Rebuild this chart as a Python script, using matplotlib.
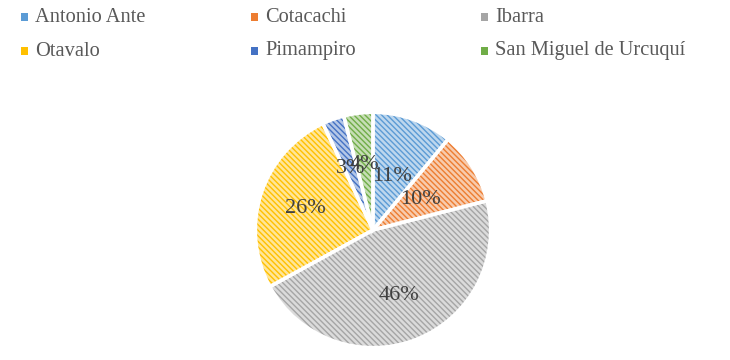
import matplotlib
matplotlib.use("Agg")
import matplotlib.pyplot as plt
import numpy as np
from matplotlib.colors import to_rgb
from matplotlib.patches import Rectangle

plt.rcParams["font.family"] = ["Liberation Serif", "DejaVu Serif"]
plt.rcParams["hatch.linewidth"] = 1.0

cantones = ["Antonio Ante", "Cotacachi", "Ibarra", "Otavalo", "Pimampiro", "San Miguel de Urcuquí"]
porcentajes = [11, 10, 46, 26, 3, 4]
colores = ["#5B9BD5", "#ED7D31", "#A5A5A5", "#FFC000", "#4472C4", "#70AD47"]
# radial position of each percentage label (fraction of radius)
dist_etiqueta = [0.48, 0.48, 0.6, 0.6, 0.56, 0.56]


def tint(c, f=0.6):
    r = np.array(to_rgb(c))
    return tuple(r + (1 - r) * f)


fig = plt.figure(figsize=(7.3, 3.6), dpi=100)
cx, cy, rad = 373 / 730, 1 - 230 / 360, 120
ax = fig.add_axes([cx - rad / 730, cy - rad / 360, 2 * rad / 730, 2 * rad / 360])

# hatched fill: light face, hatch drawn in the series colour
wedges, _ = ax.pie(porcentajes, startangle=90, counterclock=False, radius=1.0,
                   colors=[tint(c) for c in colores],
                   wedgeprops=dict(linewidth=0))
for w, c in zip(wedges, colores):
    w.set_hatch("\\\\\\\\\\\\")
    w.set_edgecolor(c)

# white separators on top
ax.pie(porcentajes, startangle=90, counterclock=False, radius=1.0,
       colors=["none"] * len(porcentajes),
       wedgeprops=dict(linewidth=2.5, edgecolor="white", fill=False))

# percentage labels
total = sum(porcentajes)
acum = 0
for v, d in zip(porcentajes, dist_etiqueta):
    mid = 90 - 360 * (acum + v / 2) / total
    acum += v
    ang = np.deg2rad(mid)
    ax.text(d * np.cos(ang), d * np.sin(ang), f"{v / total * 100:.0f}%",
            ha="center", va="center", fontsize=16, color="#404040")

ax.set_xlim(-1.02, 1.02)
ax.set_ylim(-1.02, 1.02)
ax.set_aspect("equal")
ax.axis("off")

# legend, 3 columns x 2 rows
col_x = [21, 251, 481]
row_y = [17, 51]
for i, (name, c) in enumerate(zip(cantones, colores)):
    x = col_x[i % 3]
    y = row_y[i // 3]
    fig.patches.append(Rectangle((x / 730, 1 - (y + 3.5) / 360), 7 / 730, 7 / 360,
                                 transform=fig.transFigure, facecolor=c, edgecolor="none"))
    fig.text((x + 14) / 730, 1 - y / 360, name, fontsize=14.7, color="#595959", va="center", ha="left")

fig.savefig("out.png", dpi=100)
